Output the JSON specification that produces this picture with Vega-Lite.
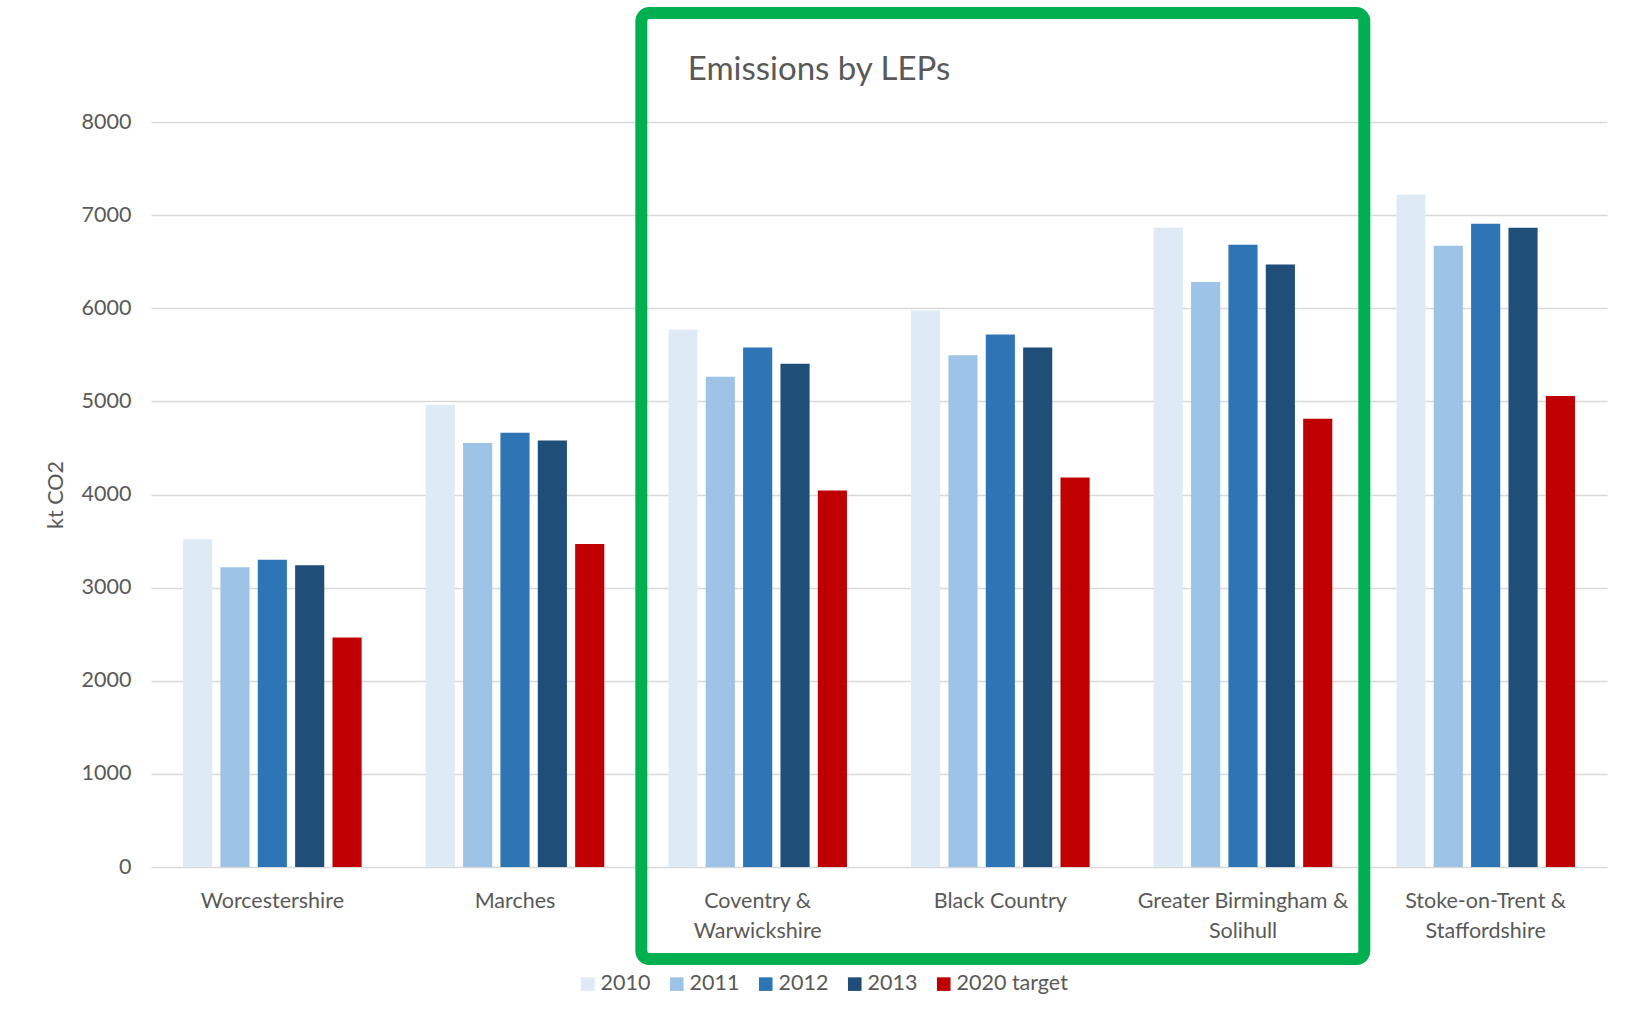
{
  "$schema": "https://vega.github.io/schema/vega-lite/v6.json",
  "width": 1456,
  "height": 745,
  "autosize": {"type": "none"},
  "padding": {"left": 151, "top": 122, "right": 31, "bottom": 149},
  "background": "white",
  "config": {
    "font": "Lato",
    "view": {"stroke": null},
    "axis": {"labelColor": "#595959", "titleColor": "#595959"}
  },
  "title": {
    "text": "Emissions by LEPs",
    "anchor": "middle",
    "dx": -60,
    "offset": -80,
    "fontSize": 33,
    "fontWeight": "normal",
    "color": "#595959"
  },
  "datasets": {
    "bars": [
      {"lep": "Worcestershire", "series": "2010", "value": 3520},
      {"lep": "Worcestershire", "series": "2011", "value": 3220},
      {"lep": "Worcestershire", "series": "2012", "value": 3300},
      {"lep": "Worcestershire", "series": "2013", "value": 3240},
      {"lep": "Worcestershire", "series": "2020 target", "value": 2465},
      {"lep": "Marches", "series": "2010", "value": 4964},
      {"lep": "Marches", "series": "2011", "value": 4554},
      {"lep": "Marches", "series": "2012", "value": 4664},
      {"lep": "Marches", "series": "2013", "value": 4579},
      {"lep": "Marches", "series": "2020 target", "value": 3468},
      {"lep": "Coventry & Warwickshire", "series": "2010", "value": 5771},
      {"lep": "Coventry & Warwickshire", "series": "2011", "value": 5264},
      {"lep": "Coventry & Warwickshire", "series": "2012", "value": 5579},
      {"lep": "Coventry & Warwickshire", "series": "2013", "value": 5404},
      {"lep": "Coventry & Warwickshire", "series": "2020 target", "value": 4043},
      {"lep": "Black Country", "series": "2010", "value": 5975},
      {"lep": "Black Country", "series": "2011", "value": 5496},
      {"lep": "Black Country", "series": "2012", "value": 5718},
      {"lep": "Black Country", "series": "2013", "value": 5579},
      {"lep": "Black Country", "series": "2020 target", "value": 4182},
      {"lep": "Greater Birmingham & Solihull", "series": "2010", "value": 6864},
      {"lep": "Greater Birmingham & Solihull", "series": "2011", "value": 6282},
      {"lep": "Greater Birmingham & Solihull", "series": "2012", "value": 6682},
      {"lep": "Greater Birmingham & Solihull", "series": "2013", "value": 6471},
      {"lep": "Greater Birmingham & Solihull", "series": "2020 target", "value": 4814},
      {"lep": "Stoke-on-Trent & Staffordshire", "series": "2010", "value": 7218},
      {"lep": "Stoke-on-Trent & Staffordshire", "series": "2011", "value": 6671},
      {"lep": "Stoke-on-Trent & Staffordshire", "series": "2012", "value": 6907},
      {"lep": "Stoke-on-Trent & Staffordshire", "series": "2013", "value": 6864},
      {"lep": "Stoke-on-Trent & Staffordshire", "series": "2020 target", "value": 5057}
    ],
    "box": [
      {"from": "Coventry & Warwickshire", "to": "Greater Birmingham & Solihull", "lo": -988, "hi": 9170}
    ]
  },
  "layer": [
    {
      "data": {"name": "bars"},
      "mark": {"type": "bar"},
      "encoding": {
        "x": {
          "field": "lep",
          "type": "nominal",
          "sort": null,
          "scale": {"paddingInner": 0.264, "paddingOuter": 0.132},
          "axis": {
            "title": null,
            "ticks": false,
            "domain": false,
            "grid": false,
            "labelAngle": 0,
            "labelFontSize": 21.5,
            "labelLineHeight": 30,
            "labelPadding": 23,
            "labelLimit": 400,
            "labelExpr": "indexof(datum.label, '& ') > 0 ? [substring(datum.label, 0, indexof(datum.label, '& ') + 1), substring(datum.label, indexof(datum.label, '& ') + 2)] : datum.label"
          }
        },
        "xOffset": {
          "field": "series",
          "type": "nominal",
          "scale": {"domain": ["2010", "2011", "2012", "2013", "2020 target"], "paddingInner": 0.22, "paddingOuter": 0}
        },
        "y": {
          "field": "value",
          "type": "quantitative",
          "scale": {"domain": [0, 8000], "nice": false},
          "axis": {
            "title": "kt CO2",
            "format": "d",
            "values": [0, 1000, 2000, 3000, 4000, 5000, 6000, 7000, 8000],
            "grid": true,
            "gridColor": "#D9D9D9",
            "gridWidth": 1.3,
            "domain": false,
            "ticks": false,
            "labelPadding": 20,
            "labelFontSize": 21.5,
            "titleFontSize": 21.5,
            "titleFontWeight": "normal",
            "titlePadding": 14
          }
        },
        "color": {
          "field": "series",
          "type": "nominal",
          "scale": {
            "domain": ["2010", "2011", "2012", "2013", "2020 target"],
            "range": ["#DEEBF7", "#9DC3E6", "#2E75B6", "#1F4E79", "#C00000"]
          },
          "legend": {
            "title": null,
            "orient": "none",
            "direction": "horizontal",
            "legendX": 426,
            "legendY": 851,
            "symbolType": "square",
            "symbolSize": 185,
            "symbolStrokeWidth": 0,
            "labelFontSize": 21.5,
            "labelColor": "#595959",
            "labelOffset": 2,
            "columnPadding": 15,
            "padding": 0
          }
        }
      }
    },
    {
      "data": {"name": "box"},
      "mark": {"type": "rect", "fill": null, "fillOpacity": 0, "stroke": "#00B050", "strokeWidth": 12, "cornerRadius": 8, "xOffset": 5},
      "encoding": {
        "x": {
          "field": "from",
          "type": "nominal",
          "bandPosition": 0,
          "scale": {
            "domain": ["Worcestershire", "Marches", "Coventry & Warwickshire", "Black Country", "Greater Birmingham & Solihull", "Stoke-on-Trent & Staffordshire"],
            "paddingInner": 0,
            "paddingOuter": 0
          },
          "axis": null
        },
        "x2": {"field": "to", "bandPosition": 1},
        "y": {"field": "lo", "type": "quantitative", "scale": {"domain": [0, 8000], "nice": false}, "axis": {"title": "kt CO2", "format": "d"}},
        "y2": {"field": "hi"}
      }
    }
  ],
  "resolve": {"scale": {"x": "independent"}}
}
